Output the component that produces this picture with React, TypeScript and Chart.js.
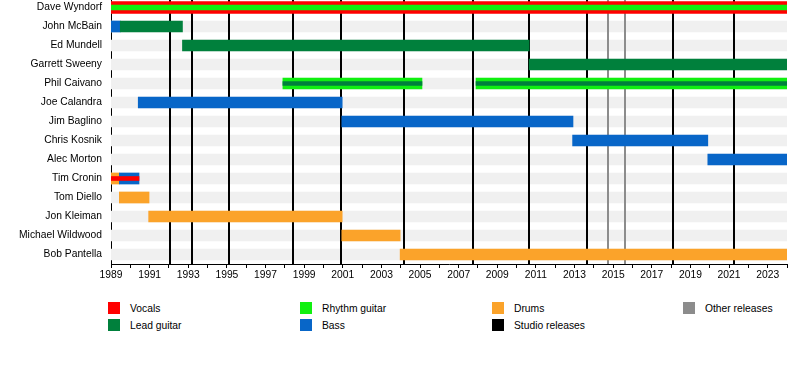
import React, { useEffect, useRef } from 'react';
import { Chart, registerables } from 'chart.js';

Chart.register(...registerables);

const START = 1989;
const END = 2024;

const members = [
  'Dave Wyndorf',
  'John McBain',
  'Ed Mundell',
  'Garrett Sweeny',
  'Phil Caivano',
  'Joe Calandra',
  'Jim Baglino',
  'Chris Kosnik',
  'Alec Morton',
  'Tim Cronin',
  'Tom Diello',
  'Jon Kleiman',
  'Michael Wildwood',
  'Bob Pantella',
];

type Seg = [string, number, number];

const vocals: Seg[] = [['Dave Wyndorf', 1989, 2024]];
const vocalsInner: Seg[] = [['Tim Cronin', 1989, 1990.45]];
const leadGuitar: Seg[] = [
  ['John McBain', 1989.48, 1992.7],
  ['Ed Mundell', 1992.7, 2010.65],
  ['Garrett Sweeny', 2010.65, 2024],
];
const leadGuitarInner: Seg[] = [
  ['Phil Caivano', 1997.9, 2005.1],
  ['Phil Caivano', 2007.9, 2024],
];
const rhythmGuitar: Seg[] = [
  ['Phil Caivano', 1997.9, 2005.1],
  ['Phil Caivano', 2007.9, 2024],
];
const rhythmGuitarInner: Seg[] = [['Dave Wyndorf', 1989, 2024]];
const bass: Seg[] = [
  ['John McBain', 1989, 1989.48],
  ['Joe Calandra', 1990.41, 2000.97],
  ['Jim Baglino', 2000.95, 2012.92],
  ['Chris Kosnik', 2012.9, 2019.9],
  ['Alec Morton', 2019.9, 2024],
  ['Tim Cronin', 1989.43, 1990.45],
];
const drums: Seg[] = [
  ['Tim Cronin', 1989, 1989.43],
  ['Tom Diello', 1989.43, 1990.97],
  ['Jon Kleiman', 1990.95, 2000.97],
  ['Michael Wildwood', 2000.95, 2003.97],
  ['Bob Pantella', 2003.97, 2024],
];

const studioReleases = [1992.07, 1993.21, 1995.12, 1998.4, 2000.9, 2004.17, 2007.74, 2010.65, 2013.67, 2018.1, 2021.26];
const otherReleases = [2014.74, 2015.62];

const legendLabels = ['Vocals', 'Lead guitar', 'Rhythm guitar', 'Bass', 'Drums', 'Studio releases', 'Other releases'];

const COLORS = {
  vocals: '#ff0000',
  lead: '#00803c',
  rhythm: '#10f010',
  bass: '#0866c8',
  drums: '#fba32a',
  studio: '#000000',
  other: '#8c8c8c',
  stripe: '#f0f0f0',
};
const legendColors = [COLORS.vocals, COLORS.lead, COLORS.rhythm, COLORS.bass, COLORS.drums, COLORS.studio, COLORS.other];

const FONT = "'Liberation Sans', Arial, sans-serif";
const FS = 10.3;

const toData = (segs: Seg[]) => segs.map(([y, s, e]) => ({ y, x: [s, e] }));

export default function App() {
  const ref = useRef<HTMLCanvasElement>(null);

  useEffect(() => {
    if (!ref.current) return;
    const releaseLines = {
      id: 'releaseLines',
      afterDatasetDraw(chart: any, args: any) {
        if (args.index !== 0) return;
        const { ctx, chartArea } = chart;
        const xs = chart.scales.x;
        ctx.save();
        ctx.beginPath();
        ctx.rect(chartArea.left, chartArea.top, chartArea.right - chartArea.left, chartArea.bottom - chartArea.top);
        ctx.clip();
        const draw = (years: number[], color: string) => {
          ctx.strokeStyle = color;
          ctx.lineWidth = 2;
          years.forEach((yr) => {
            const px = Math.round(xs.getPixelForValue(yr));
            ctx.beginPath();
            ctx.moveTo(px, chartArea.top);
            ctx.lineTo(px, chartArea.bottom);
            ctx.stroke();
          });
        };
        draw(otherReleases, COLORS.other);
        draw(studioReleases, COLORS.studio);
        ctx.restore();
      },
    };

    const base = { grouped: false, borderWidth: 0, borderSkipped: false, barThickness: 11 } as any;

    const chart = new Chart(ref.current, {
      type: 'bar',
      data: {
        labels: members,
        datasets: [
          { ...base, label: 'bg', data: toData(members.map((m) => [m, START, END] as Seg)), backgroundColor: COLORS.stripe, order: 3 },
          { ...base, label: 'Vocals', data: toData(vocals), backgroundColor: COLORS.vocals, barThickness: 12, order: 2 },
          { ...base, label: 'Lead guitar', data: toData(leadGuitar), backgroundColor: COLORS.lead, order: 2 },
          { ...base, label: 'Rhythm guitar', data: toData(rhythmGuitar), backgroundColor: COLORS.rhythm, order: 2 },
          { ...base, label: 'Bass', data: toData(bass), backgroundColor: COLORS.bass, order: 2 },
          { ...base, label: 'Drums', data: toData(drums), backgroundColor: COLORS.drums, order: 2 },
          { ...base, label: 'Vocals inner', data: toData(vocalsInner), backgroundColor: COLORS.vocals, barThickness: 4, order: 1 },
          { ...base, label: 'Rhythm inner', data: toData(rhythmGuitarInner), backgroundColor: COLORS.rhythm, barThickness: 5, order: 1 },
          { ...base, label: 'Lead inner', data: toData(leadGuitarInner), backgroundColor: COLORS.lead, barThickness: 4, order: 1 },
        ] as any,
      },
      options: {
        indexAxis: 'y',
        animation: false,
        responsive: true,
        maintainAspectRatio: false,
        events: [],
        layout: { padding: { left: 0, right: 13, top: 0, bottom: 0 } },
        plugins: { legend: { display: false }, tooltip: { enabled: false } },
        scales: {
          x: {
            type: 'linear',
            position: 'bottom',
            min: START,
            max: END,
            afterFit: (s: any) => { s.height = 26; },
            ticks: {
              stepSize: 1,
              autoSkip: false,
              maxRotation: 0,
              padding: 1,
              color: '#000',
              font: { family: FONT, size: FS },
              callback: (v: any) => (Number(v) % 2 === 1 ? String(v) : ''),
            },
            grid: { drawOnChartArea: false, drawTicks: true, tickLength: 4, color: '#000', lineWidth: 1 },
            border: { display: true, color: '#000', width: 1 },
          },
          y: {
            type: 'category',
            offset: true,
            afterFit: (s: any) => { s.width = 111; s.paddingTop = 0; s.paddingBottom = 0; },
            ticks: { padding: 9, color: '#000', font: { family: FONT, size: FS } },
            grid: { display: false, drawTicks: false, tickLength: 0 },
            border: { display: true, color: '#000', width: 1 },
          },
        },
      } as any,
      plugins: [releaseLines],
    });
    return () => chart.destroy();
  }, []);

  const cols = [108, 300, 492, 683];
  const rows = [302, 319];
  const items = legendLabels.map((label, i) => ({
    label,
    color: legendColors[i],
    x: cols[Math.floor(i / 2)],
    y: rows[i % 2],
  }));

  return (
    <div style={{ position: 'absolute', left: 0, top: 0, width: 800, height: 380, background: '#fff', overflow: 'hidden', fontFamily: FONT }}>
      <div style={{ position: 'absolute', left: 0, top: -2, width: 800, height: 292 }}>
        <canvas ref={ref} />
      </div>
      {items.map((it) => (
        <div key={it.label}>
          <div style={{ position: 'absolute', left: it.x, top: it.y, width: 12, height: 12, background: it.color }} />
          <div style={{ position: 'absolute', left: it.x + 22, top: it.y + 1, fontSize: FS, lineHeight: '12px', color: '#000', whiteSpace: 'nowrap' }}>
            {it.label}
          </div>
        </div>
      ))}
    </div>
  );
}
